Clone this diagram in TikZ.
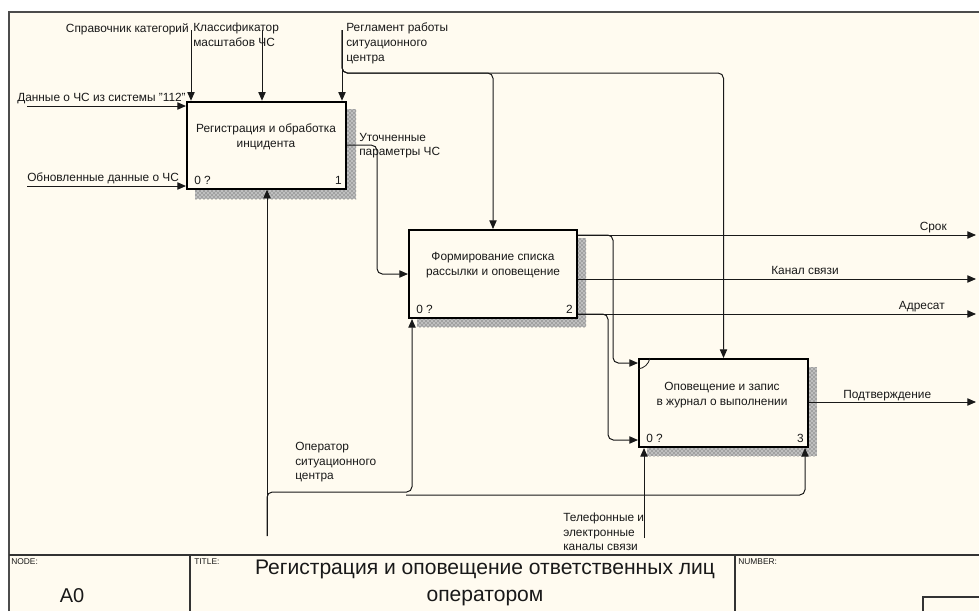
\documentclass[tikz,border=0pt]{standalone}
\usepackage{fontspec}
\setmainfont{Liberation Sans}
\usepackage{tikz}
\usetikzlibrary{patterns}
\usetikzlibrary{arrows.meta}
\definecolor{paper}{RGB}{255,251,240}
\definecolor{ink}{RGB}{25,25,25}

\begin{document}
\begin{tikzpicture}[x = 0.75pt, y = -0.75pt,
            func/.style = {draw = black, line width = 1.5pt, fill = paper, anchor = north west, inner sep = 0pt},
            shadow/.style = {fill = black!25, postaction = {pattern = crosshatch dots, pattern color = black!75}},
            flow/.style = {draw = ink, line width = 0.75pt, rounded corners = 4pt, -{Triangle[length = 6.5pt, width = 5.5pt]}},
            txt/.style = {font = \fontsize{8.9}{10.9}\selectfont, inner sep = 0pt, align = left, text = ink},
            ttl/.style = {font = \fontsize{6.3}{7}\selectfont, inner sep = 0pt, anchor = north west, text = ink}]
            \useasboundingbox (0, 0) rectangle (979, 611);
            \fill [white] (0, 0) rectangle (979, 611);
            \fill [paper] (9, 12) rectangle (979, 611);
            \draw [black!70, line width = 0.8pt] (9, 611) -- (9, 12) -- (979, 12);

            \fill [shadow] (195, 109) rectangle (356, 199);
            \fill [shadow] (417, 238) rectangle (586, 327);
            \fill [shadow] (647, 367) rectangle (817, 456);

            \node [func, minimum width = 119.25pt, minimum height = 65.25pt] (b1) at (186, 100.7) {};
            \node [func, minimum width = 126pt, minimum height = 66pt] (b2) at (408, 229) {};
            \node [func, minimum width = 126.75pt, minimum height = 66pt] (b3) at (638, 358) {};
            \draw [ink, line width = 0.6pt] (638, 369) to [bend right = 35] (650, 358);

            \node [txt, align = center] (b1t) at (266, 137) {Регистрация и обработка\\инцидента};
            \node [txt, align = center] (b2t) at (493, 265) {Формирование списка\\рассылки и оповещение};
            \node [txt, align = center] (b3t) at (722, 395) {Оповещение и запис\\в журнал о выполнении};
            \node [txt, anchor = south west] (b1a) at ([shift = {(8, -5)}] b1.south west) {0 ?};
            \node [txt, anchor = south east] (b1b) at ([shift = {(-5, -5)}] b1.south east) {1};
            \node [txt, anchor = south west] (b2a) at ([shift = {(8, -5)}] b2.south west) {0 ?};
            \node [txt, anchor = south east] (b2b) at ([shift = {(-5, -5)}] b2.south east) {2};
            \node [txt, anchor = south west] (b3a) at ([shift = {(8, -5)}] b3.south west) {0 ?};
            \node [txt, anchor = south east] (b3b) at ([shift = {(-5, -5)}] b3.south east) {3};

            \coordinate (s1) at (191, 30);
            \coordinate (k1) at (262, 30);
            \coordinate (r1) at (342, 30);
            \coordinate (rk) at (342, 73);
            \coordinate (d1) at (27, 106);
            \coordinate (o1) at (27, 186);
            \coordinate (m1) at (267, 536);
            \coordinate (mj) at (412, 492);
            \coordinate (mk) at (406, 495);
            \coordinate (t1) at (644, 538);
            \coordinate (u1) at (377, 200);
            \coordinate (e1) at (976, 235);
            \coordinate (e2) at (976, 279);
            \coordinate (e3) at (976, 314);
            \coordinate (e4) at (976, 402);
            \coordinate (f1) at (613, 363);
            \coordinate (f2) at (608, 440);

            \draw [flow] (s1) -- (s1 |- b1.north);
            \draw [flow] (k1) -- (k1 |- b1.north);
            \draw [flow] (r1) -- (r1 |- b1.north);
            \draw [flow] (r1) |- (b2.north |- rk) -- (b2.north);
            \draw [flow] (r1) |- (b3.north |- rk) -- (b3.north);
            \draw [flow] (d1) -- (d1 -| b1.west);
            \draw [flow] (o1) -- (o1 -| b1.west);
            \draw [flow] (m1) -- (m1 |- b1.south);
            \draw [flow] (m1) |- (mj) -- (mj |- b2.south);
            \draw [flow] (mk) -| ([xshift = -3pt] b3.south east);
            \draw [flow] (t1) -- (t1 |- b3.south);
            \draw [flow] (b1.east) -| (u1) |- (b2.west);
            \draw [flow] (e1 -| b2.east) -- (e1);
            \draw [flow] (e2 -| b2.east) -- (e2);
            \draw [flow] (e3 -| b2.east) -- (e3);
            \draw [flow] (e1 -| b2.east) -| (f1) -- (f1 -| b3.west);
            \draw [flow] (e3 -| b2.east) -| (f2) -- (f2 -| b3.west);
            \draw [flow] (e4 -| b3.east) -- (e4);

            \node [txt, anchor = north east] (l1) at (189, 23) {Справочник категорий};
            \node [txt, anchor = north west] (l2) at (193, 23) {Классификатор\\масштабов ЧС};
            \node [txt, anchor = north west] (l3) at (346, 23) {Регламент работы\\ситуационного\\центра};
            \node [txt, anchor = north west] (l4) at (17, 93) {Данные о ЧС из системы "112"};
            \node [txt, anchor = north west] (l5) at (27, 173) {Обновленные данные о ЧС};
            \node [txt, anchor = north west] (l6) at (359, 133) {Уточненные\\параметры ЧС};
            \node [txt, anchor = north west] (l7) at (295, 442) {Оператор\\ситуационного\\центра};
            \node [txt, anchor = north west] (l8) at (563, 513) {Телефонные и\\электронные\\каналы связи};
            \node [txt, anchor = north east] (l9) at (947, 222) {Срок};
            \node [txt, anchor = north] (l10) at (805, 266) {Канал связи};
            \node [txt, anchor = north east] (l11) at (945, 301) {Адресат};
            \node [txt, anchor = north west] (l12) at (843, 390) {Подтверждение};

            \draw [black!80, line width = 0.8pt] (9, 555) -- (979, 555);
            \draw [black!80, line width = 0.8pt] (190, 555) -- (190, 611);
            \draw [black!80, line width = 0.8pt] (735, 555) -- (735, 611);
            \draw [black!80, line width = 0.8pt] (923, 611) -- (923, 597) -- (979, 597);
            \node [ttl] (n1) at (11, 558) {NODE:};
            \node [ttl] (n2) at (194, 558) {TITLE:};
            \node [ttl] (n3) at (738, 558) {NUMBER:};
            \node [font = \fontsize{15}{20}\selectfont, text = ink, inner sep = 0pt] (n4) at (72, 596) {A0};
            \node [font = \fontsize{15.8}{20.5}\selectfont, text = ink, inner sep = 0pt, align = center] (n5) at (485, 583) {Регистрация и оповещение ответственных лиц\\оператором};
\end{tikzpicture}
\end{document}
